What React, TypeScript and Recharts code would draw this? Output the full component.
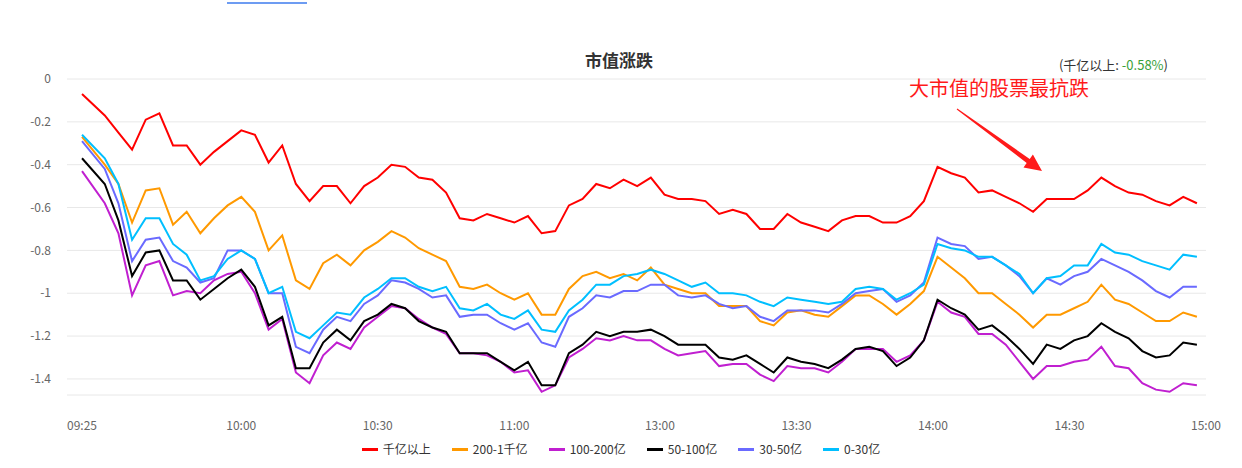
import React from "react";
import { LineChart, Line, XAxis, YAxis, CartesianGrid } from "recharts";

// sample times (trading clock), lunch break collapsed on the axis
const TIMES = [
  "09:25", "09:30", "09:33", "09:36", "09:39", "09:42", "09:45", "09:48", "09:51", "09:54", "09:57",
  "10:00", "10:03", "10:06", "10:09", "10:12", "10:15", "10:18", "10:21", "10:24", "10:27",
  "10:30", "10:33", "10:36", "10:39", "10:42", "10:45", "10:48", "10:51", "10:54", "10:57",
  "11:00", "11:03", "11:06", "11:09", "11:12", "11:15", "11:18", "11:21", "11:24", "11:27",
  "11:30", "13:01", "13:04", "13:07", "13:10", "13:13", "13:16", "13:19", "13:22", "13:25",
  "13:28", "13:31", "13:34", "13:37", "13:40", "13:43", "13:46", "13:49", "13:52", "13:55",
  "13:58", "14:01", "14:04", "14:07", "14:10", "14:13", "14:16", "14:19", "14:22", "14:25",
  "14:28", "14:31", "14:34", "14:37", "14:40", "14:43", "14:46", "14:49", "14:52", "14:55", "14:58",
];

const TICK_LABELS = ["09:25", "10:00", "10:30", "11:00", "13:00", "13:30", "14:00", "14:30", "15:00"];
const Y_TICKS = [0, -0.2, -0.4, -0.6, -0.8, -1, -1.2, -1.4];

// 千亿以上
const CAP_1000 = [
  -0.07,
  -0.17, -0.25, -0.33, -0.19, -0.16, -0.31, -0.31, -0.40, -0.34, -0.29,
  -0.24, -0.26, -0.39, -0.31, -0.49, -0.57, -0.50, -0.50, -0.58, -0.50,
  -0.46, -0.40, -0.41, -0.46, -0.47, -0.53, -0.65, -0.66, -0.63, -0.65,
  -0.67, -0.64, -0.72, -0.71, -0.59, -0.56, -0.49, -0.51, -0.47, -0.50,
  -0.46, -0.54, -0.56, -0.56, -0.57, -0.63, -0.61, -0.63, -0.70, -0.70,
  -0.63, -0.67, -0.69, -0.71, -0.66, -0.64, -0.64, -0.67, -0.67, -0.64,
  -0.57, -0.41, -0.44, -0.46, -0.53, -0.52, -0.55, -0.58, -0.62, -0.56,
  -0.56, -0.56, -0.52, -0.46, -0.50, -0.53, -0.54, -0.57, -0.59, -0.55, -0.58,
];

// 200-1千亿
const CAP_200 = [
  -0.27,
  -0.40, -0.49, -0.67, -0.52, -0.51, -0.68, -0.62, -0.72, -0.65, -0.59,
  -0.55, -0.62, -0.80, -0.73, -0.94, -0.98, -0.86, -0.82, -0.87, -0.80,
  -0.76, -0.71, -0.74, -0.79, -0.82, -0.85, -0.97, -0.98, -0.96, -1.00,
  -1.03, -1.00, -1.10, -1.10, -0.98, -0.92, -0.90, -0.93, -0.91, -0.94,
  -0.88, -0.96, -0.98, -1.00, -1.00, -1.06, -1.06, -1.06, -1.13, -1.15,
  -1.09, -1.08, -1.10, -1.11, -1.06, -1.01, -1.01, -1.05, -1.10, -1.05,
  -0.99, -0.83, -0.88, -0.93, -1.00, -1.00, -1.05, -1.10, -1.16, -1.10,
  -1.10, -1.07, -1.04, -0.96, -1.03, -1.05, -1.09, -1.13, -1.13, -1.09, -1.11,
];

// 100-200亿
const CAP_100 = [
  -0.43,
  -0.58, -0.72, -1.01, -0.87, -0.85, -1.01, -0.99, -1.00, -0.94, -0.91,
  -0.90, -1.00, -1.17, -1.12, -1.37, -1.42, -1.29, -1.23, -1.26, -1.16,
  -1.11, -1.06, -1.07, -1.12, -1.16, -1.19, -1.28, -1.28, -1.29, -1.32,
  -1.37, -1.36, -1.46, -1.43, -1.30, -1.26, -1.21, -1.22, -1.20, -1.22,
  -1.22, -1.26, -1.29, -1.28, -1.27, -1.34, -1.33, -1.33, -1.38, -1.41,
  -1.34, -1.35, -1.35, -1.37, -1.32, -1.26, -1.26, -1.26, -1.32, -1.29,
  -1.22, -1.04, -1.09, -1.11, -1.19, -1.19, -1.24, -1.32, -1.40, -1.34,
  -1.34, -1.32, -1.31, -1.25, -1.34, -1.35, -1.42, -1.45, -1.46, -1.42, -1.43,
];

// 50-100亿
const CAP_50 = [
  -0.37,
  -0.49, -0.66, -0.92, -0.81, -0.80, -0.94, -0.94, -1.03, -0.98, -0.93,
  -0.89, -0.97, -1.15, -1.11, -1.35, -1.35, -1.23, -1.17, -1.22, -1.13,
  -1.10, -1.05, -1.07, -1.13, -1.16, -1.18, -1.28, -1.28, -1.28, -1.32,
  -1.36, -1.32, -1.43, -1.43, -1.28, -1.24, -1.18, -1.20, -1.18, -1.18,
  -1.17, -1.20, -1.24, -1.24, -1.24, -1.30, -1.31, -1.29, -1.33, -1.37,
  -1.30, -1.32, -1.33, -1.35, -1.31, -1.26, -1.25, -1.27, -1.34, -1.30,
  -1.22, -1.03, -1.07, -1.10, -1.17, -1.15, -1.20, -1.26, -1.33, -1.24,
  -1.26, -1.22, -1.20, -1.14, -1.18, -1.21, -1.27, -1.30, -1.29, -1.23, -1.24,
];

// 30-50亿
const CAP_30 = [
  -0.29,
  -0.42, -0.58, -0.85, -0.75, -0.74, -0.85, -0.88, -0.95, -0.93, -0.80,
  -0.80, -0.84, -1.00, -1.00, -1.25, -1.28, -1.17, -1.11, -1.13, -1.05,
  -1.01, -0.94, -0.95, -0.98, -1.02, -1.01, -1.11, -1.10, -1.10, -1.14,
  -1.17, -1.14, -1.23, -1.25, -1.11, -1.07, -1.01, -1.02, -0.99, -0.99,
  -0.96, -0.96, -1.01, -1.02, -1.01, -1.05, -1.07, -1.06, -1.11, -1.13,
  -1.08, -1.08, -1.08, -1.09, -1.05, -1.00, -0.99, -0.98, -1.04, -1.01,
  -0.95, -0.74, -0.77, -0.78, -0.84, -0.83, -0.87, -0.92, -1.00, -0.93,
  -0.96, -0.92, -0.90, -0.84, -0.87, -0.90, -0.94, -0.99, -1.02, -0.97, -0.97,
];

// 0-30亿
const CAP_0 = [
  -0.26,
  -0.37, -0.49, -0.75, -0.65, -0.65, -0.77, -0.82, -0.94, -0.92, -0.84,
  -0.80, -0.84, -1.00, -0.97, -1.18, -1.21, -1.15, -1.09, -1.10, -1.02,
  -0.98, -0.93, -0.93, -0.97, -0.99, -0.97, -1.07, -1.08, -1.05, -1.10,
  -1.12, -1.08, -1.17, -1.18, -1.08, -1.03, -0.96, -0.96, -0.92, -0.91,
  -0.89, -0.91, -0.94, -0.97, -0.95, -1.00, -1.00, -1.01, -1.04, -1.06,
  -1.02, -1.03, -1.04, -1.05, -1.04, -0.98, -0.97, -0.98, -1.03, -1.00,
  -0.96, -0.77, -0.79, -0.80, -0.83, -0.83, -0.87, -0.91, -1.00, -0.93,
  -0.92, -0.87, -0.87, -0.77, -0.81, -0.82, -0.85, -0.87, -0.89, -0.82, -0.83,
];

const SERIES = [
  { key: "cap1000", name: "千亿以上", color: "#ff0000", values: CAP_1000 },
  { key: "cap200", name: "200-1千亿", color: "#ff9900", values: CAP_200 },
  { key: "cap100", name: "100-200亿", color: "#c01fd0", values: CAP_100 },
  { key: "cap50", name: "50-100亿", color: "#000000", values: CAP_50 },
  { key: "cap30", name: "30-50亿", color: "#6a6aff", values: CAP_30 },
  { key: "cap0", name: "0-30亿", color: "#00bfff", values: CAP_0 },
];

// minutes since 09:25 on a trading axis (11:30 -> 13:00 takes 2 minutes)
function toMinute(hhmm: string) {
  const [h, m] = hhmm.split(":").map(Number);
  const t = h * 60 + m;
  return h < 12 ? t - (9 * 60 + 25) : t - 13 * 60 + 127;
}

const X_TICKS = TICK_LABELS.map(toMinute);

const FONT = '"Microsoft YaHei", "Noto Sans CJK SC", "Noto Sans", sans-serif';

export default function App() {
  const data = TIMES.map((t, i) => {
    const row: Record<string, number> = { x: toMinute(t) };
    SERIES.forEach((s) => {
      row[s.key] = s.values[i];
    });
    return row;
  });

  return (
    <div
      style={{
        position: "absolute",
        left: 0,
        top: 0,
        width: 1242,
        height: 468,
        background: "#fff",
        fontFamily: FONT,
      }}
    >
      {/* little blue tab bar at the very top */}
      <div style={{ position: "absolute", left: 227, top: 2, width: 80, height: 2, background: "#6d9cf2" }} />

      <LineChart
        width={1242}
        height={468}
        data={data}
        margin={{ top: 79, right: 36, bottom: 43, left: 7 }}
      >
        <CartesianGrid vertical={false} stroke="#e8e8e8" />
        <XAxis
          type="number"
          dataKey="x"
          domain={[-3.3, 247]}
          ticks={X_TICKS}
          interval={0}
          tickFormatter={(v: number) => TICK_LABELS[X_TICKS.indexOf(v)]}
          axisLine={false}
          tickLine={false}
          tickMargin={20}
          tick={{ fill: "#666", fontSize: 12, fontFamily: FONT }}
        />
        <YAxis
          type="number"
          domain={[-1.475, 0]}
          ticks={Y_TICKS}
          interval={0}
          width={60}
          axisLine={false}
          tickLine={false}
          tickMargin={10}
          tick={{ fill: "#666", fontSize: 12, fontFamily: FONT }}
        />
        {SERIES.map((s) => (
          <Line
            key={s.key}
            type="linear"
            dataKey={s.key}
            name={s.name}
            stroke={s.color}
            strokeWidth={2}
            dot={false}
            activeDot={false}
            isAnimationActive={false}
          />
        ))}
      </LineChart>

      {/* title */}
      <div
        style={{
          position: "absolute",
          left: 0,
          top: 48,
          width: 1238,
          textAlign: "center",
          fontSize: 17,
          fontWeight: "bold",
          color: "#333",
          lineHeight: "24px",
        }}
      >
        市值涨跌
      </div>

      {/* top right note */}
      <div
        style={{
          position: "absolute",
          right: 74,
          top: 56,
          fontSize: 13,
          color: "#333",
          lineHeight: "18px",
          whiteSpace: "nowrap",
        }}
      >
        (千亿以上: <span style={{ color: "#3aa13a" }}>-0.58%</span>)
      </div>

      {/* annotation */}
      <div
        style={{
          position: "absolute",
          left: 909,
          top: 75,
          fontSize: 20,
          color: "#ff1a1a",
          lineHeight: "26px",
          whiteSpace: "nowrap",
        }}
      >
        大市值的股票最抗跌
      </div>
      <svg
        width={1242}
        height={468}
        style={{ position: "absolute", left: 0, top: 0, pointerEvents: "none" }}
      >
        <polygon
          points="956.7,109.4 1026.7,163 1023.5,167.5 1042,171 1032.9,154.5 1029.7,159 957.3,108.6"
          fill="#ff1a1a"
        />
      </svg>

      {/* legend */}
      <div
        style={{
          position: "absolute",
          left: 0,
          top: 441,
          width: 1242,
          height: 16,
          display: "flex",
          justifyContent: "center",
          alignItems: "center",
          gap: 21,
          fontSize: 12,
          color: "#333",
        }}
      >
        {SERIES.map((s) => (
          <div key={s.key} style={{ display: "flex", alignItems: "center", gap: 5 }}>
            <div style={{ width: 16, height: 3, background: s.color }} />
            <span style={{ lineHeight: "16px" }}>{s.name}</span>
          </div>
        ))}
      </div>
    </div>
  );
}
